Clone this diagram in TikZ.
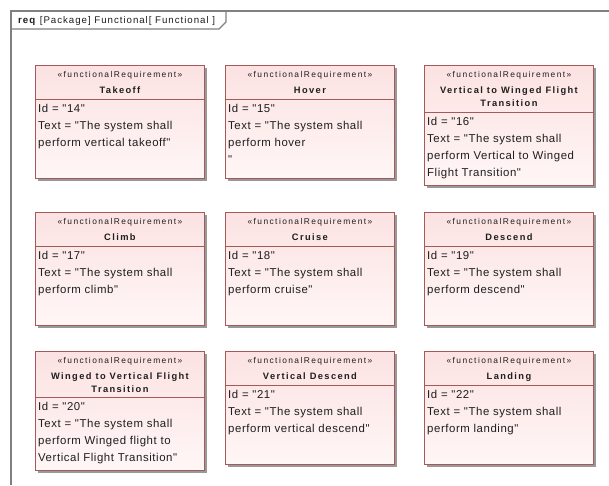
\documentclass[tikz,border=0pt]{standalone}
\usepackage{fontspec}
\setmainfont{Liberation Sans}
\newfontfamily\bodyfont[LetterSpace=5]{Liberation Sans}
\newfontfamily\namefont[LetterSpace=15]{Liberation Sans}
\newfontfamily\stereofont[LetterSpace=17]{Liberation Sans}
\newfontfamily\tabfont[LetterSpace=10]{Liberation Sans}
\usetikzlibrary{shadows}

\definecolor{reqborder}{RGB}{165,90,90}
\definecolor{reqtop}{RGB}{252,226,226}
\definecolor{reqbot}{RGB}{255,246,246}
\definecolor{framegray}{RGB}{128,128,128}
\definecolor{reqtext}{RGB}{30,30,30}

\tikzset{
  reqshape/.style={draw=reqborder, line width=0.9pt, rectangle, inner sep=0pt,
    anchor=north west, top color=reqtop, bottom color=reqbot,
    drop shadow={shadow xshift=3pt, shadow yshift=-3pt, fill=black!40, opacity=1}},
  stereo/.style={font=\stereofont\fontsize{8.4}{10}\selectfont, text=reqtext, inner sep=0pt},
  reqname/.style={font=\namefont\bfseries\fontsize{9.3}{13}\selectfont, text=reqtext, inner sep=0pt, align=center, anchor=north},
  reqbody/.style={font=\bodyfont\fontsize{11.4}{17}\selectfont, text=reqtext, inner sep=0pt, align=left, anchor=north west},
  divider/.style={draw=reqborder, line width=0.9pt},
  framestyle/.style={draw=framegray, line width=1.3pt},
}

% #1 name, #2 x, #3 y (measured downwards), #4 height, #5 header height, #6 title, #7 body
\newcommand\reqblock[7]{%
  \node[reqshape, minimum width=169pt, minimum height=#4pt] (#1) at (#2,-#3) {};
  \draw[divider] ([yshift=-#5pt]#1.north west) -- ([yshift=-#5pt]#1.north east);
  \node[stereo] (#1-st) at ([yshift=-10.5pt]#1.north) {«functionalRequirement»};
  \node[reqname] (#1-nm) at ([yshift=-21.5pt]#1.north) {#6};
  \node[reqbody] (#1-bd) at ([xshift=3pt,yshift=-#5pt-5.5pt]#1.north west) {#7};
}

\begin{document}
\begin{tikzpicture}[x=1pt, y=1pt]
  \useasboundingbox[fill=white] (0,0) rectangle (609,-485);

  % diagram frame with its name tab
  \draw[framestyle] (11,-485) -- (11,-11) -- (609,-11);
  \draw[framestyle] (11,-29) -- (219,-29) -- (226,-22) -- (226,-11);
  \node[anchor=west, inner sep=0pt, font=\tabfont\fontsize{9.7}{11}\selectfont, text=reqtext] (frametitle) at (18,-20.5)
    {\textbf{req} [Package] Functional[ Functional ]};

  % row 1
  \reqblock{takeoff}{35}{65}{113}{34}{Takeoff}
    {Id = "14"\\Text = "The system shall\\perform vertical takeoff"};
  \reqblock{hover}{225}{65}{113}{34}{Hover}
    {Id = "15"\\Text = "The system shall\\perform hover\\"};
  \reqblock{v2w}{424}{65}{120}{47}{Vertical to Winged Flight\\Transition}
    {Id = "16"\\Text = "The system shall\\perform Vertical to Winged\\Flight Transition"};

  % row 2
  \reqblock{climb}{35}{212}{113}{34}{Climb}
    {Id = "17"\\Text = "The system shall\\perform climb"};
  \reqblock{cruise}{225}{212}{113}{34}{Cruise}
    {Id = "18"\\Text = "The system shall\\perform cruise"};
  \reqblock{descend}{424}{212}{113}{34}{Descend}
    {Id = "19"\\Text = "The system shall\\perform descend"};

  % row 3
  \reqblock{w2v}{35}{351}{119}{46}{Winged to Vertical Flight\\Transition}
    {Id = "20"\\Text = "The system shall\\perform Winged flight to\\Vertical Flight Transition"};
  \reqblock{vdescend}{225}{351}{113}{34}{Vertical Descend}
    {Id = "21"\\Text = "The system shall\\perform vertical descend"};
  \reqblock{landing}{424}{351}{113}{34}{Landing}
    {Id = "22"\\Text = "The system shall\\perform landing"};
\end{tikzpicture}
\end{document}
